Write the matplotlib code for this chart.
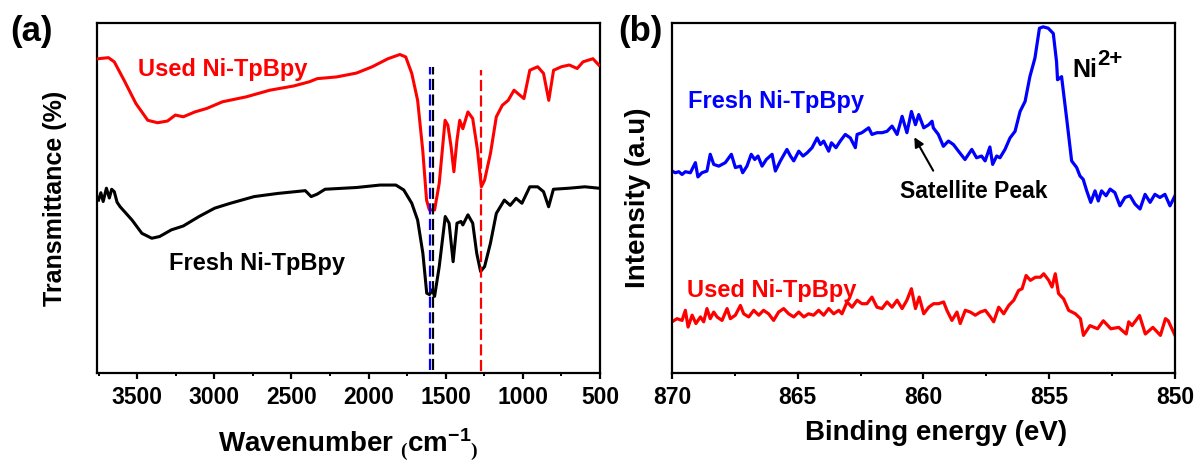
import matplotlib
matplotlib.use("Agg")
import matplotlib.pyplot as plt
from matplotlib.ticker import MultipleLocator

plt.rcParams['font.family'] = ['Liberation Sans', 'DejaVu Sans']
plt.rcParams['font.weight'] = 'bold'
plt.rcParams['mathtext.fontset'] = 'custom'
plt.rcParams['mathtext.rm'] = 'Liberation Sans:bold'
plt.rcParams['mathtext.bf'] = 'Liberation Sans:bold'
plt.rcParams['mathtext.it'] = 'Liberation Sans:bold'
plt.rcParams['mathtext.sf'] = 'Liberation Serif'
plt.rcParams['mathtext.default'] = 'rm'

# ---------------- Panel (a): FTIR ----------------
used_ftir_w = [3750, 3686, 3648, 3584, 3508, 3431, 3367, 3303, 3252, 3201,
               3125, 3048, 2946, 2793, 2640, 2486, 2384, 2333, 2206, 2078,
               1976, 1874, 1797, 1759, 1720, 1682, 1649, 1624, 1606, 1572,
               1542, 1504, 1486, 1465, 1447, 1427, 1409, 1389, 1356, 1325,
               1294, 1269, 1248, 1210, 1172, 1133, 1095, 1057, 1031, 993,
               955, 904, 866, 832, 801, 750, 699, 648, 610, 546,
               508]
used_ftir_t = [89.8, 90.1, 88.9, 83.6, 77.0, 72.2, 71.5, 72.0, 73.7, 73.2,
               74.6, 75.6, 77.5, 78.9, 80.8, 82.0, 83.2, 84.1, 84.6, 85.7,
               87.5, 89.8, 91.0, 90.3, 85.6, 77.9, 63.7, 49.4, 46.6, 46.6,
               54.2, 72.2, 70.8, 64.6, 57.5, 66.5, 72.2, 69.8, 74.6, 72.7,
               63.7, 53.2, 55.1, 62.7, 73.2, 76.5, 77.9, 80.8, 79.8, 78.4,
               86.5, 87.5, 85.6, 77.9, 86.5, 87.5, 88.0, 87.0, 88.9, 89.8,
               88.0]

fresh_ftir_w = [3750, 3735, 3720, 3699, 3680, 3665, 3648, 3630, 3610, 3533,
                3469, 3405, 3354, 3278, 3201, 3099, 2997, 2895, 2742, 2589,
                2410, 2372, 2333, 2282, 2078, 1925, 1823, 1772, 1720, 1682,
                1648, 1623, 1605, 1587, 1572, 1542, 1503, 1478, 1452, 1427,
                1401, 1389, 1356, 1325, 1299, 1274, 1248, 1210, 1172, 1120,
                1082, 1044, 1006, 955, 904, 866, 833, 802, 700, 598,
                508]
fresh_ftir_t = [49.4, 51.5, 49.0, 52.8, 50.0, 52.5, 51.8, 48.8, 47.5, 43.7,
                39.9, 38.5, 39.0, 40.9, 42.0, 44.7, 47.1, 48.5, 50.4, 51.3,
                52.1, 50.4, 51.1, 52.5, 53.0, 53.7, 53.7, 52.3, 48.5, 43.7,
                34.2, 22.8, 22.4, 23.8, 21.9, 30.4, 44.7, 42.8, 31.8, 42.8,
                43.3, 42.3, 45.2, 42.8, 34.2, 29.0, 30.4, 37.1, 45.6, 49.4,
                47.9, 49.9, 48.5, 53.2, 53.2, 51.8, 47.5, 52.5, 52.8, 53.2,
                52.8]

# dashed marker lines
marker_w = [1602, 1580, 1272]
marker_colors = ['#0000ff', '#000000', '#ff0000']
marker_top = [87.5, 87.5, 86.5]
marker_bottom = [1.0, 1.0, 0.5]

# ---------------- Panel (b): XPS ----------------
fresh_xps_e = [870.00, 869.87, 869.73, 869.60, 869.47, 869.27, 869.07, 868.97, 868.81, 868.61,
               868.48, 868.34, 868.14, 867.88, 867.64, 867.48, 867.28, 867.19, 867.02, 866.85,
               866.71, 866.58, 866.42, 866.25, 866.02, 865.89, 865.69, 865.43, 865.29, 865.16,
               864.96, 864.79, 864.63, 864.43, 864.23, 864.10, 863.97, 863.77, 863.66, 863.48,
               863.31, 863.11, 862.91, 862.71, 862.64, 862.45, 862.18, 862.05, 861.85, 861.65,
               861.45, 861.25, 861.05, 860.85, 860.66, 860.48, 860.32, 860.19, 859.99, 859.79,
               859.66, 859.61, 859.41, 859.21, 859.01, 858.81, 858.61, 858.35, 858.08, 857.89,
               857.69, 857.55, 857.36, 857.25, 857.09, 856.96, 856.76, 856.56, 856.36, 856.16,
               855.96, 855.77, 855.57, 855.39, 855.24, 855.04, 854.84, 854.71, 854.67, 854.51,
               854.31, 854.11, 853.91, 853.78, 853.65, 853.51, 853.35, 853.18, 853.05, 852.92,
               852.74, 852.58, 852.39, 852.19, 851.99, 851.79, 851.59, 851.39, 851.19, 850.99,
               850.80, 850.60, 850.40, 850.20, 850.00]
fresh_xps_i = [58.0, 57.5, 57.8, 57.0, 57.8, 57.5, 60.4, 56.3, 57.5, 58.0,
               62.8, 59.9, 59.4, 60.4, 62.8, 59.0, 59.4, 57.5, 59.4, 62.8,
               61.3, 62.3, 59.4, 61.3, 62.8, 58.0, 60.9, 64.2, 62.3, 60.9,
               63.7, 62.3, 63.2, 64.7, 67.5, 65.6, 66.6, 63.7, 66.1, 64.7,
               66.6, 68.5, 67.5, 64.7, 68.5, 69.0, 70.4, 68.5, 69.0, 69.0,
               69.4, 70.9, 68.5, 73.7, 69.0, 75.1, 71.3, 74.2, 70.4, 71.3,
               72.3, 70.4, 68.5, 65.1, 66.6, 65.6, 63.7, 61.3, 64.2, 61.8,
               62.3, 60.9, 64.9, 59.9, 62.3, 61.8, 64.2, 67.5, 69.4, 75.1,
               78.0, 85.1, 90.4, 99.0, 99.4, 99.0, 97.5, 89.4, 84.2, 85.1,
               73.2, 60.9, 59.0, 56.6, 55.6, 52.3, 49.0, 52.3, 49.4, 52.3,
               50.9, 52.8, 51.8, 48.0, 50.4, 50.9, 48.5, 47.1, 51.3, 49.0,
               51.3, 50.4, 51.3, 48.0, 50.9]

used_xps_e = [870.00, 869.80, 869.60, 869.47, 869.36, 869.20, 869.05, 868.87, 868.74, 868.61,
              868.48, 868.34, 868.21, 868.01, 867.81, 867.68, 867.48, 867.28, 867.15, 866.95,
              866.75, 866.55, 866.36, 866.16, 865.96, 865.76, 865.56, 865.36, 865.16, 864.96,
              864.76, 864.57, 864.37, 864.17, 863.97, 863.77, 863.57, 863.37, 863.24, 863.04,
              862.84, 862.64, 862.45, 862.25, 862.05, 861.85, 861.65, 861.45, 861.25, 861.05,
              860.85, 860.66, 860.48, 860.32, 860.17, 859.99, 859.79, 859.60, 859.40, 859.20,
              859.07, 858.87, 858.67, 858.54, 858.34, 858.14, 857.94, 857.74, 857.54, 857.34,
              857.21, 857.01, 856.81, 856.61, 856.41, 856.22, 856.08, 855.92, 855.75, 855.55,
              855.35, 855.22, 855.02, 854.89, 854.76, 854.63, 854.43, 854.23, 853.96, 853.76,
              853.64, 853.38, 853.08, 852.85, 852.55, 852.24, 851.94, 851.84, 851.71, 851.41,
              851.18, 850.88, 850.58, 850.38, 850.27, 850.00]
used_xps_i = [14.7, 15.6, 15.1, 18.0, 13.2, 16.6, 14.2, 16.1, 14.7, 18.5,
              15.6, 17.5, 16.1, 15.1, 18.5, 15.6, 16.6, 19.4, 17.0, 16.1,
              18.0, 16.6, 18.0, 17.0, 15.1, 17.5, 18.5, 17.0, 16.1, 17.5,
              16.1, 17.0, 16.6, 18.0, 16.6, 18.5, 17.0, 18.0, 17.0, 20.4,
              18.9, 20.9, 19.9, 19.9, 21.8, 18.9, 18.5, 20.4, 18.9, 20.9,
              18.5, 20.9, 24.2, 18.5, 21.8, 17.0, 18.9, 19.9, 19.9, 20.4,
              18.0, 15.1, 17.5, 14.2, 18.0, 17.5, 16.6, 17.5, 18.0, 16.1,
              14.7, 18.9, 17.0, 19.4, 20.9, 23.7, 24.2, 28.0, 26.6, 27.5,
              27.5, 28.5, 26.6, 24.7, 28.5, 22.8, 21.3, 18.0, 17.0, 15.6,
              10.8, 13.6, 12.7, 15.0, 12.7, 13.1, 11.2, 14.7, 13.6, 16.5,
              11.2, 13.1, 10.8, 15.6, 15.0, 10.8]

RED = '#ff0000'
BLUE = '#0000ff'

fig = plt.figure(figsize=(11.98, 4.61), dpi=100)
axa = fig.add_axes([97/1198, 88/461, 503/1198, 350/461])
axb = fig.add_axes([672/1198, 88/461, 503/1198, 350/461])

for ax in (axa, axb):
    for sp in ax.spines.values():
        sp.set_linewidth(1.6)
    ax.set_yticks([])
    ax.tick_params(axis='x', which='major', direction='out', length=4.5, width=1.6,
                   labelsize=16.5, pad=5, top=False)
    ax.tick_params(axis='x', which='minor', direction='out', length=2.5, width=1.4, top=False)

# Panel (a)
axa.plot(used_ftir_w, used_ftir_t, color=RED, lw=2.2, zorder=3)
axa.plot(fresh_ftir_w, fresh_ftir_t, color='black', lw=2.2, zorder=3)
for w, c, t, b in zip(marker_w, marker_colors, marker_top, marker_bottom):
    axa.plot([w, w], [b, t], color=c, lw=1.6, ls=(0, (5, 2)), zorder=4)
axa.set_xlim(3760, 500)
axa.set_ylim(0, 100)
axa.xaxis.set_major_locator(MultipleLocator(500))
axa.xaxis.set_minor_locator(MultipleLocator(250))
for lab in axa.get_xticklabels():
    lab.set_fontweight('bold')
axa.text(3494, 86.6, 'Used Ni-TpBpy', color=RED, fontsize=17, fontweight='bold',
         ha='left', va='center')
axa.text(3293, 31.4, 'Fresh Ni-TpBpy', color='black', fontsize=17, fontweight='bold',
         ha='left', va='center')
axa.text(-0.083, 0.5, 'Transmittance (%)', transform=axa.transAxes, rotation=90,
         ha='center', va='center', fontsize=18, fontweight='bold')
axa.text(0.50, -0.205, r'Wavenumber $_{\mathsf{(}}$cm$^{-1}$$_{\mathsf{)}}$',
         transform=axa.transAxes, ha='center', va='center', fontsize=20, fontweight='bold')

# Panel (b)
axb.plot(fresh_xps_e, fresh_xps_i, color=BLUE, lw=2.3)
axb.plot(used_xps_e, used_xps_i, color=RED, lw=2.3)
axb.set_xlim(870, 850)
axb.set_ylim(0, 100.5)
axb.xaxis.set_major_locator(MultipleLocator(5))
axb.xaxis.set_minor_locator(MultipleLocator(2.5))
for lab in axb.get_xticklabels():
    lab.set_fontweight('bold')
axb.text(869.36, 78, 'Fresh Ni-TpBpy', color=BLUE, fontsize=17, fontweight='bold',
         ha='left', va='center')
axb.text(869.4, 23.7, 'Used Ni-TpBpy', color=RED, fontsize=17, fontweight='bold',
         ha='left', va='center')
axb.text(854.1, 85, 'Ni', color='black', fontsize=18, fontweight='bold',
         ha='left', va='baseline')
axb.text(853.1, 88.3, '2+', color='black', fontsize=16, fontweight='bold',
         ha='left', va='baseline')
axb.annotate('', xy=(860.42, 68.4), xytext=(859.56, 57.4),
             arrowprops=dict(arrowstyle='-|>', color='black', lw=1.5, mutation_scale=14))
axb.text(858.0, 52.2, 'Satellite Peak', color='black', fontsize=16.5, fontweight='bold',
         ha='center', va='center')
axb.text(-0.068, 0.5, 'Intensity (a.u)', transform=axb.transAxes, rotation=90,
         ha='center', va='center', fontsize=20, fontweight='bold')
axb.text(0.525, -0.171, 'Binding energy (eV)', transform=axb.transAxes,
         ha='center', va='center', fontsize=20, fontweight='bold')

fig.text(32/1198, 1 - 32/461, '(a)', ha='center', va='center', fontsize=25, fontweight='bold')
fig.text(640/1198, 1 - 32/461, '(b)', ha='center', va='center', fontsize=25, fontweight='bold')

fig.savefig('out.png', dpi=100)
